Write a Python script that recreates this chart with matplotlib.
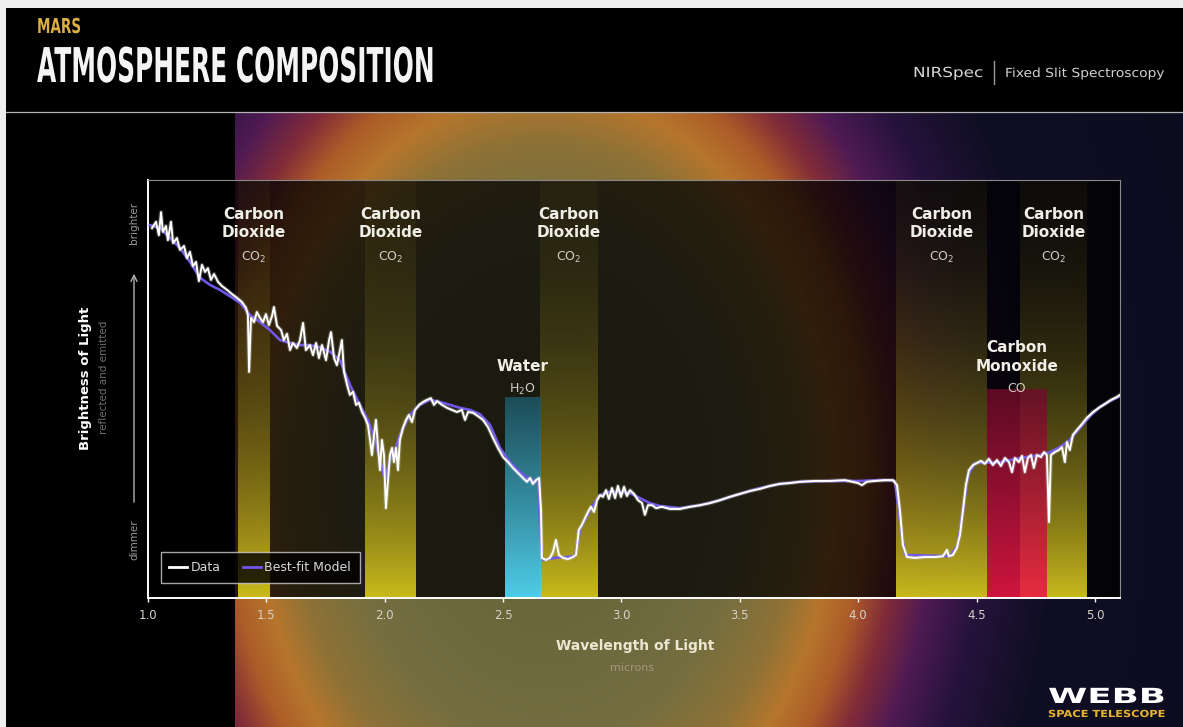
import numpy as np
import matplotlib
matplotlib.use("Agg")
import matplotlib.pyplot as plt
from matplotlib import patheffects
from matplotlib.transforms import Affine2D
from matplotlib.lines import Line2D

W_PX, H_PX, DPI = 1183, 727, 100

# ---------------- spectrum: observed data (microns, relative brightness) ----------------
data_wl = [
    1.017, 1.034, 1.046, 1.055, 1.063, 1.076, 1.084, 1.097, 1.106, 1.122,
    1.135, 1.152, 1.165, 1.177, 1.190, 1.203, 1.215, 1.228, 1.241, 1.253,
    1.266, 1.279, 1.296, 1.313, 1.334, 1.355, 1.376, 1.397, 1.414, 1.422,
    1.427, 1.435, 1.448, 1.460, 1.473, 1.486, 1.498, 1.511, 1.524, 1.532,
    1.545, 1.562, 1.574, 1.587, 1.600, 1.612, 1.629, 1.642, 1.655, 1.667,
    1.684, 1.697, 1.710, 1.722, 1.735, 1.752, 1.765, 1.773, 1.786, 1.798,
    1.811, 1.819, 1.828, 1.841, 1.853, 1.866, 1.879, 1.891, 1.904, 1.917,
    1.929, 1.938, 1.946, 1.955, 1.963, 1.972, 1.980, 1.988, 1.997, 2.005,
    2.014, 2.022, 2.031, 2.039, 2.048, 2.056, 2.064, 2.077, 2.090, 2.102,
    2.115, 2.128, 2.145, 2.162, 2.178, 2.195, 2.208, 2.221, 2.242, 2.263,
    2.284, 2.305, 2.326, 2.339, 2.352, 2.373, 2.394, 2.415, 2.436, 2.457,
    2.478, 2.500, 2.521, 2.542, 2.563, 2.584, 2.601, 2.614, 2.626, 2.639,
    2.652, 2.660, 2.664, 2.681, 2.698, 2.711, 2.723, 2.736, 2.753, 2.774,
    2.795, 2.808, 2.820, 2.833, 2.846, 2.859, 2.871, 2.884, 2.897, 2.909,
    2.922, 2.935, 2.947, 2.960, 2.973, 2.985, 2.998, 3.011, 3.023, 3.036,
    3.053, 3.070, 3.087, 3.099, 3.112, 3.129, 3.146, 3.171, 3.205, 3.247,
    3.289, 3.332, 3.374, 3.416, 3.458, 3.500, 3.543, 3.585, 3.627, 3.669,
    3.712, 3.754, 3.817, 3.881, 3.944, 3.999, 4.016, 4.037, 4.071, 4.113,
    4.147, 4.164, 4.176, 4.189, 4.206, 4.240, 4.282, 4.324, 4.358, 4.375,
    4.383, 4.400, 4.417, 4.430, 4.443, 4.455, 4.468, 4.485, 4.502, 4.519,
    4.535, 4.552, 4.569, 4.586, 4.603, 4.620, 4.637, 4.650, 4.662, 4.679,
    4.692, 4.704, 4.717, 4.730, 4.742, 4.755, 4.772, 4.785, 4.797, 4.806,
    4.814, 4.831, 4.848, 4.861, 4.873, 4.882, 4.894, 4.907, 4.924, 4.945,
    4.966, 4.992, 5.017, 5.042, 5.068, 5.093, 5.106,
]
data_br = [
    0.885, 0.900, 0.868, 0.923, 0.876, 0.890, 0.856, 0.900, 0.849, 0.861,
    0.833, 0.842, 0.813, 0.828, 0.794, 0.804, 0.758, 0.797, 0.780, 0.789,
    0.761, 0.775, 0.756, 0.746, 0.737, 0.727, 0.718, 0.708, 0.694, 0.677,
    0.541, 0.670, 0.660, 0.684, 0.670, 0.660, 0.679, 0.653, 0.675, 0.696,
    0.651, 0.641, 0.617, 0.632, 0.593, 0.610, 0.598, 0.617, 0.658, 0.593,
    0.605, 0.581, 0.610, 0.574, 0.605, 0.569, 0.617, 0.636, 0.574, 0.557,
    0.593, 0.617, 0.541, 0.510, 0.486, 0.493, 0.462, 0.467, 0.445, 0.431,
    0.414, 0.378, 0.342, 0.390, 0.426, 0.359, 0.306, 0.378, 0.342, 0.215,
    0.282, 0.342, 0.359, 0.325, 0.359, 0.306, 0.378, 0.407, 0.426, 0.438,
    0.421, 0.450, 0.462, 0.469, 0.474, 0.478, 0.462, 0.471, 0.462, 0.455,
    0.450, 0.445, 0.450, 0.426, 0.445, 0.443, 0.435, 0.426, 0.409, 0.383,
    0.359, 0.337, 0.325, 0.311, 0.299, 0.287, 0.278, 0.287, 0.273, 0.282,
    0.287, 0.211, 0.096, 0.091, 0.096, 0.110, 0.139, 0.103, 0.096, 0.093,
    0.098, 0.103, 0.163, 0.175, 0.191, 0.206, 0.218, 0.206, 0.234, 0.246,
    0.242, 0.258, 0.237, 0.263, 0.239, 0.268, 0.242, 0.266, 0.244, 0.258,
    0.249, 0.234, 0.227, 0.199, 0.222, 0.222, 0.215, 0.218, 0.213, 0.213,
    0.218, 0.222, 0.227, 0.234, 0.242, 0.249, 0.256, 0.261, 0.268, 0.273,
    0.275, 0.278, 0.280, 0.280, 0.282, 0.275, 0.270, 0.278, 0.280, 0.282,
    0.282, 0.270, 0.211, 0.127, 0.098, 0.096, 0.098, 0.098, 0.100, 0.115,
    0.100, 0.103, 0.120, 0.151, 0.211, 0.270, 0.306, 0.318, 0.323, 0.328,
    0.321, 0.333, 0.318, 0.330, 0.316, 0.335, 0.325, 0.301, 0.335, 0.325,
    0.340, 0.301, 0.335, 0.342, 0.311, 0.342, 0.337, 0.349, 0.342, 0.182,
    0.342, 0.349, 0.354, 0.361, 0.325, 0.373, 0.354, 0.390, 0.402, 0.416,
    0.431, 0.445, 0.455, 0.464, 0.474, 0.481, 0.486,
]

# ---------------- spectrum: best-fit model ----------------
model_wl = [
    1.008, 1.051, 1.093, 1.135, 1.177, 1.220, 1.262, 1.304, 1.346, 1.389,
    1.431, 1.473, 1.515, 1.558, 1.600, 1.642, 1.684, 1.726, 1.769, 1.811,
    1.853, 1.895, 1.929, 1.959, 1.980, 2.001, 2.022, 2.043, 2.064, 2.106,
    2.149, 2.191, 2.233, 2.276, 2.318, 2.360, 2.402, 2.445, 2.487, 2.529,
    2.571, 2.614, 2.647, 2.660, 2.668, 2.719, 2.804, 2.825, 2.867, 2.909,
    2.951, 2.994, 3.036, 3.078, 3.120, 3.163, 3.247, 3.332, 3.416, 3.500,
    3.585, 3.669, 3.754, 3.881, 4.008, 4.092, 4.155, 4.176, 4.198, 4.388,
    4.421, 4.443, 4.464, 4.494, 4.600, 4.684, 4.768, 4.810, 4.853, 4.894,
    4.937, 4.979, 5.021, 5.063, 5.106,
]
model_br = [
    0.892, 0.885, 0.861, 0.837, 0.804, 0.766, 0.749, 0.737, 0.722, 0.706,
    0.677, 0.660, 0.641, 0.617, 0.610, 0.605, 0.605, 0.600, 0.589, 0.569,
    0.510, 0.462, 0.426, 0.378, 0.330, 0.282, 0.330, 0.354, 0.390, 0.438,
    0.462, 0.474, 0.469, 0.462, 0.455, 0.450, 0.440, 0.414, 0.359, 0.325,
    0.301, 0.282, 0.278, 0.139, 0.091, 0.096, 0.100, 0.163, 0.211, 0.246,
    0.254, 0.254, 0.251, 0.239, 0.227, 0.220, 0.215, 0.222, 0.234, 0.249,
    0.263, 0.273, 0.278, 0.280, 0.280, 0.282, 0.280, 0.187, 0.103, 0.100,
    0.127, 0.211, 0.294, 0.323, 0.325, 0.335, 0.342, 0.349, 0.361, 0.378,
    0.407, 0.435, 0.457, 0.471, 0.483,
]

# ---------------- absorption bands (microns) ----------------
co2_bands = [(1.380, 1.515), (1.917, 2.132), (2.656, 2.901), (4.160, 4.544), (4.683, 4.966)]
water_band = (2.508, 2.656)
co_band = (4.544, 4.797)

xticks = [1.0, 1.5, 2.0, 2.5, 3.0, 3.5, 4.0, 4.5, 5.0]
xtick_labels = ["1.0", "1.5", "2.0", "2.5", "3.0", "3.5", "4.0", "4.5", "5.0"]

DATA_COLOR = "white"
MODEL_COLOR = "#6f55ea"


class Stretch(patheffects.AbstractPathEffect):
    """Scale glyphs horizontally about the start of each text line."""

    def __init__(self, sx=1.0):
        super().__init__()
        self.sx = sx

    def draw_path(self, renderer, gc, tpath, affine, rgbFace=None):
        x0 = affine.get_matrix()[0, 2]
        squeeze = Affine2D().translate(-x0, 0).scale(self.sx, 1.0).translate(x0, 0)
        renderer.draw_path(gc, tpath, affine + squeeze, rgbFace)


fig = plt.figure(figsize=(W_PX / DPI, H_PX / DPI), dpi=DPI, facecolor="#efefed")

# ---------------- backdrop: blurred planet glow in pixel space ----------------
bg = fig.add_axes([0, 0, 1, 1], zorder=0)
yy, xx = np.mgrid[0:H_PX, 0:W_PX] + 0.5
rho = np.hypot((xx - 545) / 318.0, (yy - 480) / 425.0)
stops = [0.0, 0.62, 0.80, 0.91, 1.01, 1.11, 1.23, 1.38, 1.60, 3.0]
cols = np.array([(96, 96, 56), (116, 110, 64), (142, 114, 54), (182, 118, 44),
                 (172, 92, 40), (130, 44, 56), (78, 26, 84), (38, 19, 60),
                 (16, 14, 36), (9, 9, 24)]) / 255.0
img = np.dstack([np.interp(rho, stops, cols[:, i]) for i in range(3)])
img[:112, :, :] = 0.0
img[:, :235, :] = 0.0
img[:8, :, :] = 0.94
img[:, :6, :] = 0.94
bg.imshow(img, extent=(0, W_PX, H_PX, 0), interpolation="bilinear", aspect="auto")
bg.set_xlim(0, W_PX)
bg.set_ylim(H_PX, 0)
bg.axis("off")

# header rule and separator
bg.plot([6, W_PX], [111.5, 111.5], color="#b4b4b4", lw=0.9)
bg.plot([994, 994], [61, 84], color="#9a9a9a", lw=1.0)


def fit_width(txt, target):
    r = fig.canvas.get_renderer()
    w = txt.get_window_extent(r).width
    txt.set_path_effects([Stretch(target / w)])


t = bg.text(37, 33, "MARS", fontsize=14.8, fontweight="bold", color="#dcae45",
            ha="left", va="baseline")
fit_width(t, 44)
t = bg.text(37, 82, "ATMOSPHERE COMPOSITION", fontsize=34.5, fontweight="bold",
            color="#f4f4f4", ha="left", va="baseline")
fit_width(t, 397)
t = bg.text(913, 77, "NIRSpec", fontsize=10, color="#d8d8d8", ha="left", va="baseline")
fit_width(t, 70)
t = bg.text(1005, 77, "Fixed Slit Spectroscopy", fontsize=9, color="#d0d0d0",
            ha="left", va="baseline")
fit_width(t, 160)

# axis titles
bg.text(635, 646, "Wavelength of Light", fontsize=10, fontweight="bold",
        color="#ece6d2", ha="center", va="center")
bg.text(632, 668, "microns", fontsize=8, color="#a09680", ha="center", va="center")
bg.text(86, 378, "Brightness of Light", fontsize=9.5, fontweight="bold", color="white",
        rotation=90, ha="center", va="center")
bg.text(104, 377, "reflected and emitted", fontsize=7.5, color="#6e6e6e",
        rotation=90, ha="center", va="center")
bg.text(134, 223, "brighter", fontsize=7.5, color="#9a9a9a",
        rotation=90, ha="center", va="center")
bg.text(134, 540, "dimmer", fontsize=7.5, color="#9a9a9a",
        rotation=90, ha="center", va="center")
bg.annotate("", xy=(134, 271), xytext=(134, 505),
            arrowprops=dict(arrowstyle="->", color="#b0b0b0", lw=1.0, mutation_scale=11))

# logo
t = bg.text(1048, 703, "WEBB", fontsize=15, fontweight="bold", color="white",
            ha="left", va="baseline")
fit_width(t, 118)
t = bg.text(1048, 717, "SPACE TELESCOPE", fontsize=7, fontweight="bold", color="#e8b42e",
            ha="left", va="baseline")
fit_width(t, 118)

# ---------------- spectrum panel ----------------
left, right, top, bottom = 148, 1120, 180, 598
ax = fig.add_axes([left / W_PX, 1 - bottom / H_PX, (right - left) / W_PX,
                   (bottom - top) / H_PX], zorder=2)
ax.set_facecolor((0, 0, 0, 0.74))


def gradient_band(x0, x1, y_top, rgb_bottom, rgb_top, a_bottom, a_top, power=1.0, z=1):
    n = 256
    t_ = np.linspace(0.0, 1.0, n)
    w = (1.0 - t_) ** power
    c_b = np.array(rgb_bottom) / 255.0
    c_t = np.array(rgb_top) / 255.0
    rgba = np.zeros((n, 1, 4))
    rgba[:, 0, :3] = c_t[None, :] * (1 - w[:, None]) + c_b[None, :] * w[:, None]
    rgba[:, 0, 3] = a_top + (a_bottom - a_top) * w
    ax.imshow(rgba, extent=(x0, x1, 0, y_top), origin="lower", aspect="auto",
              interpolation="bilinear", zorder=z)


for x0, x1 in co2_bands:
    gradient_band(x0, x1, 1.0, (212, 196, 30), (105, 92, 25), 0.95, 0.11, power=1.5, z=1)
gradient_band(*water_band, 0.48, (82, 216, 246), (30, 86, 102), 0.95, 0.85, z=1.2)
gradient_band(*co_band, 0.50, (236, 24, 70), (110, 12, 42), 0.88, 0.82, z=1.2)

ax.plot(model_wl, model_br, color=MODEL_COLOR, lw=1.9, zorder=3)
ax.plot(data_wl, data_br, color="#c8c8c8", lw=3.0, alpha=0.3, zorder=4)
ax.plot(data_wl, data_br, color=DATA_COLOR, lw=1.4, zorder=5)

ax.set_xlim(1.0, 5.106)
ax.set_ylim(0.0, 1.0)

# band labels
name_kw = dict(fontsize=11, fontweight="bold", color="#efefe8", ha="center",
               va="center", linespacing=1.3, zorder=6)
form_kw = dict(fontsize=9, color="#cfcfc6", ha="center", va="center", zorder=6)
for x0, x1 in co2_bands:
    xc = 0.5 * (x0 + x1)
    ax.text(xc, 0.896, "Carbon\nDioxide", **name_kw)
    ax.text(xc, 0.814, r"CO$_2$", **form_kw)
xc = 0.5 * sum(water_band)
ax.text(xc, 0.553, "Water", **name_kw)
ax.text(xc, 0.500, r"H$_2$O", **form_kw)
xc = 0.5 * sum(co_band)
ax.text(xc, 0.577, "Carbon\nMonoxide", **name_kw)
ax.text(xc, 0.502, "CO", **form_kw)

# frame and ticks
for s in ("left", "bottom"):
    ax.spines[s].set_color("white")
    ax.spines[s].set_linewidth(1.4)
for s in ("top", "right"):
    ax.spines[s].set_color("#8a8a8a")
    ax.spines[s].set_linewidth(0.8)
ax.set_yticks([])
ax.set_xticks(xticks)
ax.set_xticklabels(xtick_labels)
ax.tick_params(axis="x", colors="white", labelcolor="#d6d3c8", labelsize=8.5,
               length=3, width=1, pad=5)

leg = ax.legend(handles=[Line2D([], [], color=DATA_COLOR, lw=2),
                         Line2D([], [], color=MODEL_COLOR, lw=2)],
                labels=["Data", "Best-fit Model"], loc="lower left",
                bbox_to_anchor=(0.013, 0.036), borderaxespad=0, ncol=2,
                fontsize=9, handlelength=1.4, handletextpad=0.3,
                columnspacing=1.8, borderpad=0.7, fancybox=False,
                labelcolor="#d8d8d8")
leg.get_frame().set_facecolor((0, 0, 0, 0.72))
leg.get_frame().set_edgecolor("#cfcfcf")
leg.get_frame().set_linewidth(1.0)
leg.set_zorder(7)

fig.savefig("out.png", dpi=DPI, facecolor=fig.get_facecolor())
